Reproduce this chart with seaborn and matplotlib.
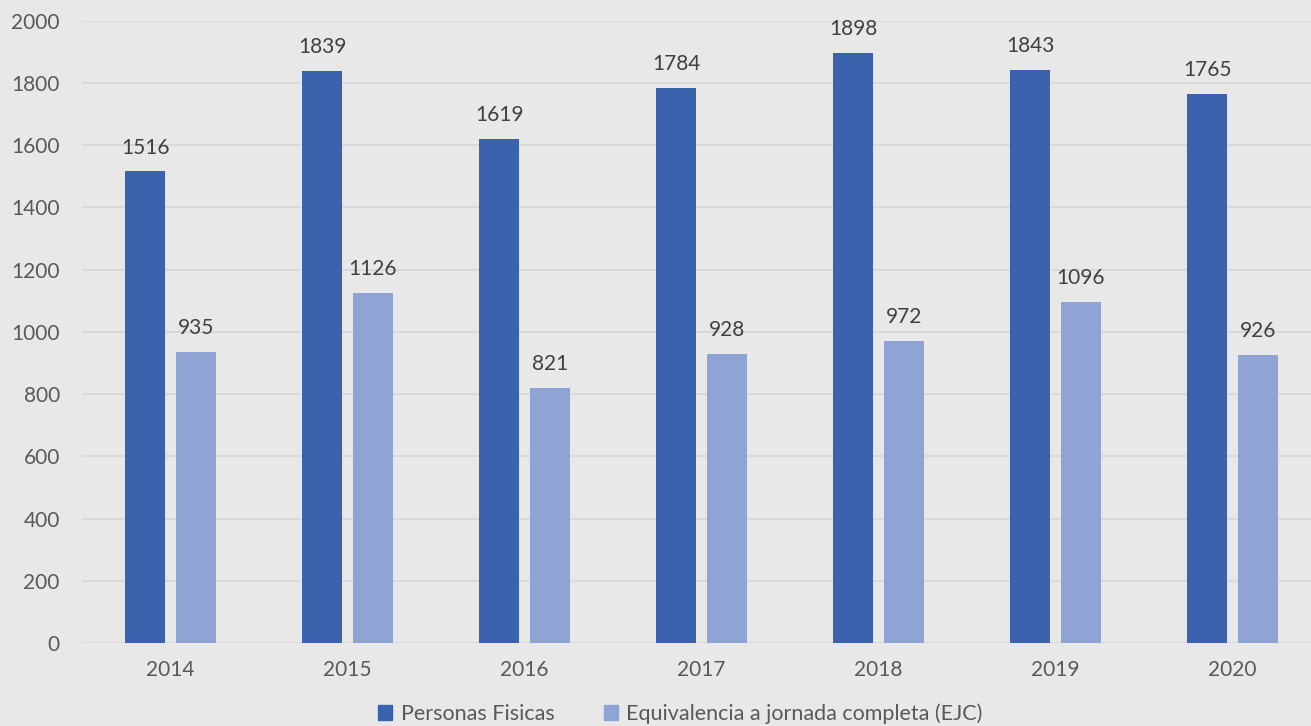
import seaborn as sns
import matplotlib.pyplot as plt
import pandas as pd

years = ["2014", "2015", "2016", "2017", "2018", "2019", "2020"]
personas_fisicas = [1516, 1839, 1619, 1784, 1898, 1843, 1765]
ejc = [935, 1126, 821, 928, 972, 1096, 926]
series_names = ["Personas Fisicas", "Equivalencia a jornada completa (EJC)"]
colors = ["#3b63ad", "#8fa4d5"]

sns.set_style("whitegrid")
plt.rcParams['font.family'] = ['Lato', 'DejaVu Sans']

df = pd.DataFrame({
    "year": years * 2,
    "value": personas_fisicas + ejc,
    "serie": [series_names[0]] * len(years) + [series_names[1]] * len(years),
})

bg = "#e8e8e8"
fig = plt.figure(figsize=(13.11, 7.26), dpi=100, facecolor=bg)
ax = fig.add_axes([0.0626, 0.1143, 0.945, 0.857])
ax.set_facecolor(bg)

sns.barplot(data=df, x="year", y="value", hue="serie", palette=colors,
            width=0.57, gap=0.21, saturation=1, linewidth=0, ax=ax, legend=False)

for cont in ax.containers:
    ax.bar_label(cont, padding=10, fontsize=15, color="#404040")

ax.set_ylim(0, 2000)
ax.set_xlim(-0.5, 6.5)
ax.set_yticks(range(0, 2001, 200))
ax.grid(axis="y", color="#d6d6d6", linewidth=1.2)
ax.grid(axis="x", visible=False)
for s in ax.spines.values():
    s.set_visible(False)
ax.tick_params(axis="both", length=0, labelsize=15, labelcolor="#595959")
ax.tick_params(axis="x", pad=12)
ax.tick_params(axis="y", pad=16)
ax.set_xlabel("")
ax.set_ylabel("")

handles = [plt.Rectangle((0, 0), 1, 1, color=c) for c in colors]
fig.legend(handles, series_names, loc="center", bbox_to_anchor=(0.519, 0.017),
           ncol=2, frameon=False, fontsize=15.5, labelcolor="#595959",
           handlelength=0.65, handleheight=0.65, handletextpad=0.4, columnspacing=2.3)

fig.savefig("out.png", dpi=100, facecolor=bg)
